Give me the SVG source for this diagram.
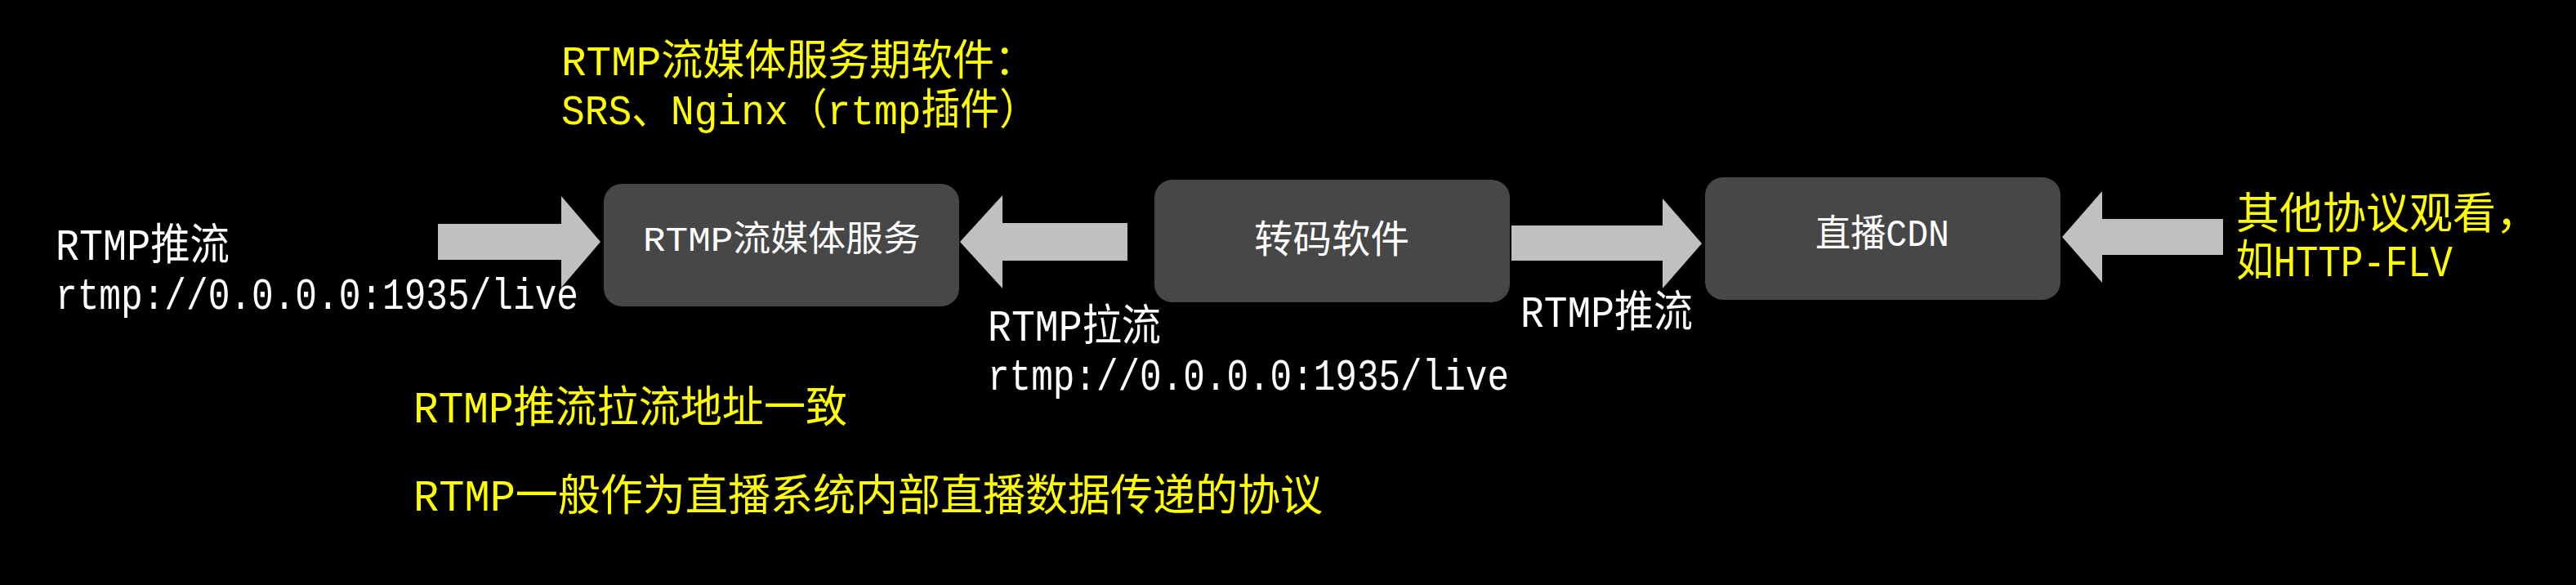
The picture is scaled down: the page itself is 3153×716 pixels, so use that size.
<svg xmlns="http://www.w3.org/2000/svg" width="3153" height="716" viewBox="0 0 3153 716">
<style>
.t{font-family:"Liberation Mono","Noto Sans CJK SC",monospace;}
.w{fill:#ffffff;}
.y{fill:#ffff00;}
.box{fill:#474747;}
.arr{fill:#c0c0c0;}
</style>
<rect x="0" y="0" width="3153" height="716" fill="#000000"/>

<g id="connectors">
  <polygon id="arrow-push-in" class="arr" points="536,274 687,274 687,240 735,296 687,352 687,318 536,318"/>
  <polygon id="arrow-pull" class="arr" points="1380,273 1227,273 1227,239 1175,296 1227,353 1227,319 1380,319"/>
  <polygon id="arrow-push-cdn" class="arr" points="1850,276 2035,276 2035,243 2083,298 2035,353 2035,319 1850,319"/>
  <polygon id="arrow-view" class="arr" points="2721,268 2573,268 2573,234 2524,290 2573,346 2573,312 2721,312"/>
</g>

<g id="node-rtmp-server">
  <rect class="box" x="739" y="225" width="435" height="150" rx="22" ry="22"/>
  <text class="t w" x="957" y="307" font-size="43" text-anchor="middle" textLength="340" lengthAdjust="spacingAndGlyphs">RTMP流媒体服务</text>
</g>

<g id="node-transcoder">
  <rect class="box" x="1413" y="220" width="435" height="150" rx="22" ry="22"/>
  <text class="t w" x="1630" y="309" font-size="47" text-anchor="middle" textLength="190" lengthAdjust="spacingAndGlyphs">转码软件</text>
</g>

<g id="node-cdn">
  <rect class="box" x="2087" y="217" width="435" height="150" rx="22" ry="22"/>
  <text class="t w" x="2304" y="301" font-size="46" text-anchor="middle" textLength="164" lengthAdjust="spacingAndGlyphs">直播CDN</text>
</g>

<g id="labels">
  <text class="t y" x="687" y="92" font-size="52" textLength="581" lengthAdjust="spacingAndGlyphs">RTMP流媒体服务期软件：</text>
  <text class="t y" x="687" y="152" font-size="52" textLength="584" lengthAdjust="spacingAndGlyphs">SRS、Nginx（rtmp插件）</text>

  <text class="t w" x="68" y="318" font-size="53" textLength="213" lengthAdjust="spacingAndGlyphs">RTMP推流</text>
  <text class="t w" x="68" y="378" font-size="53" textLength="640" lengthAdjust="spacingAndGlyphs">rtmp://0.0.0.0:1935/live</text>

  <text class="t w" x="1209" y="417" font-size="53" textLength="212" lengthAdjust="spacingAndGlyphs">RTMP拉流</text>
  <text class="t w" x="1209" y="477" font-size="53" textLength="638" lengthAdjust="spacingAndGlyphs">rtmp://0.0.0.0:1935/live</text>

  <text class="t w" x="1861" y="400" font-size="53" textLength="211" lengthAdjust="spacingAndGlyphs">RTMP推流</text>

  <text class="t y" x="2737" y="280" font-size="53" textLength="371" lengthAdjust="spacingAndGlyphs">其他协议观看，</text>
  <text class="t y" x="2737" y="338" font-size="53" textLength="265" lengthAdjust="spacingAndGlyphs">如HTTP-FLV</text>

  <text class="t y" x="506" y="517" font-size="53" textLength="531" lengthAdjust="spacingAndGlyphs">RTMP推流拉流地址一致</text>
  <text class="t y" x="506" y="625" font-size="53" textLength="1113" lengthAdjust="spacingAndGlyphs">RTMP一般作为直播系统内部直播数据传递的协议</text>
</g>
</svg>
